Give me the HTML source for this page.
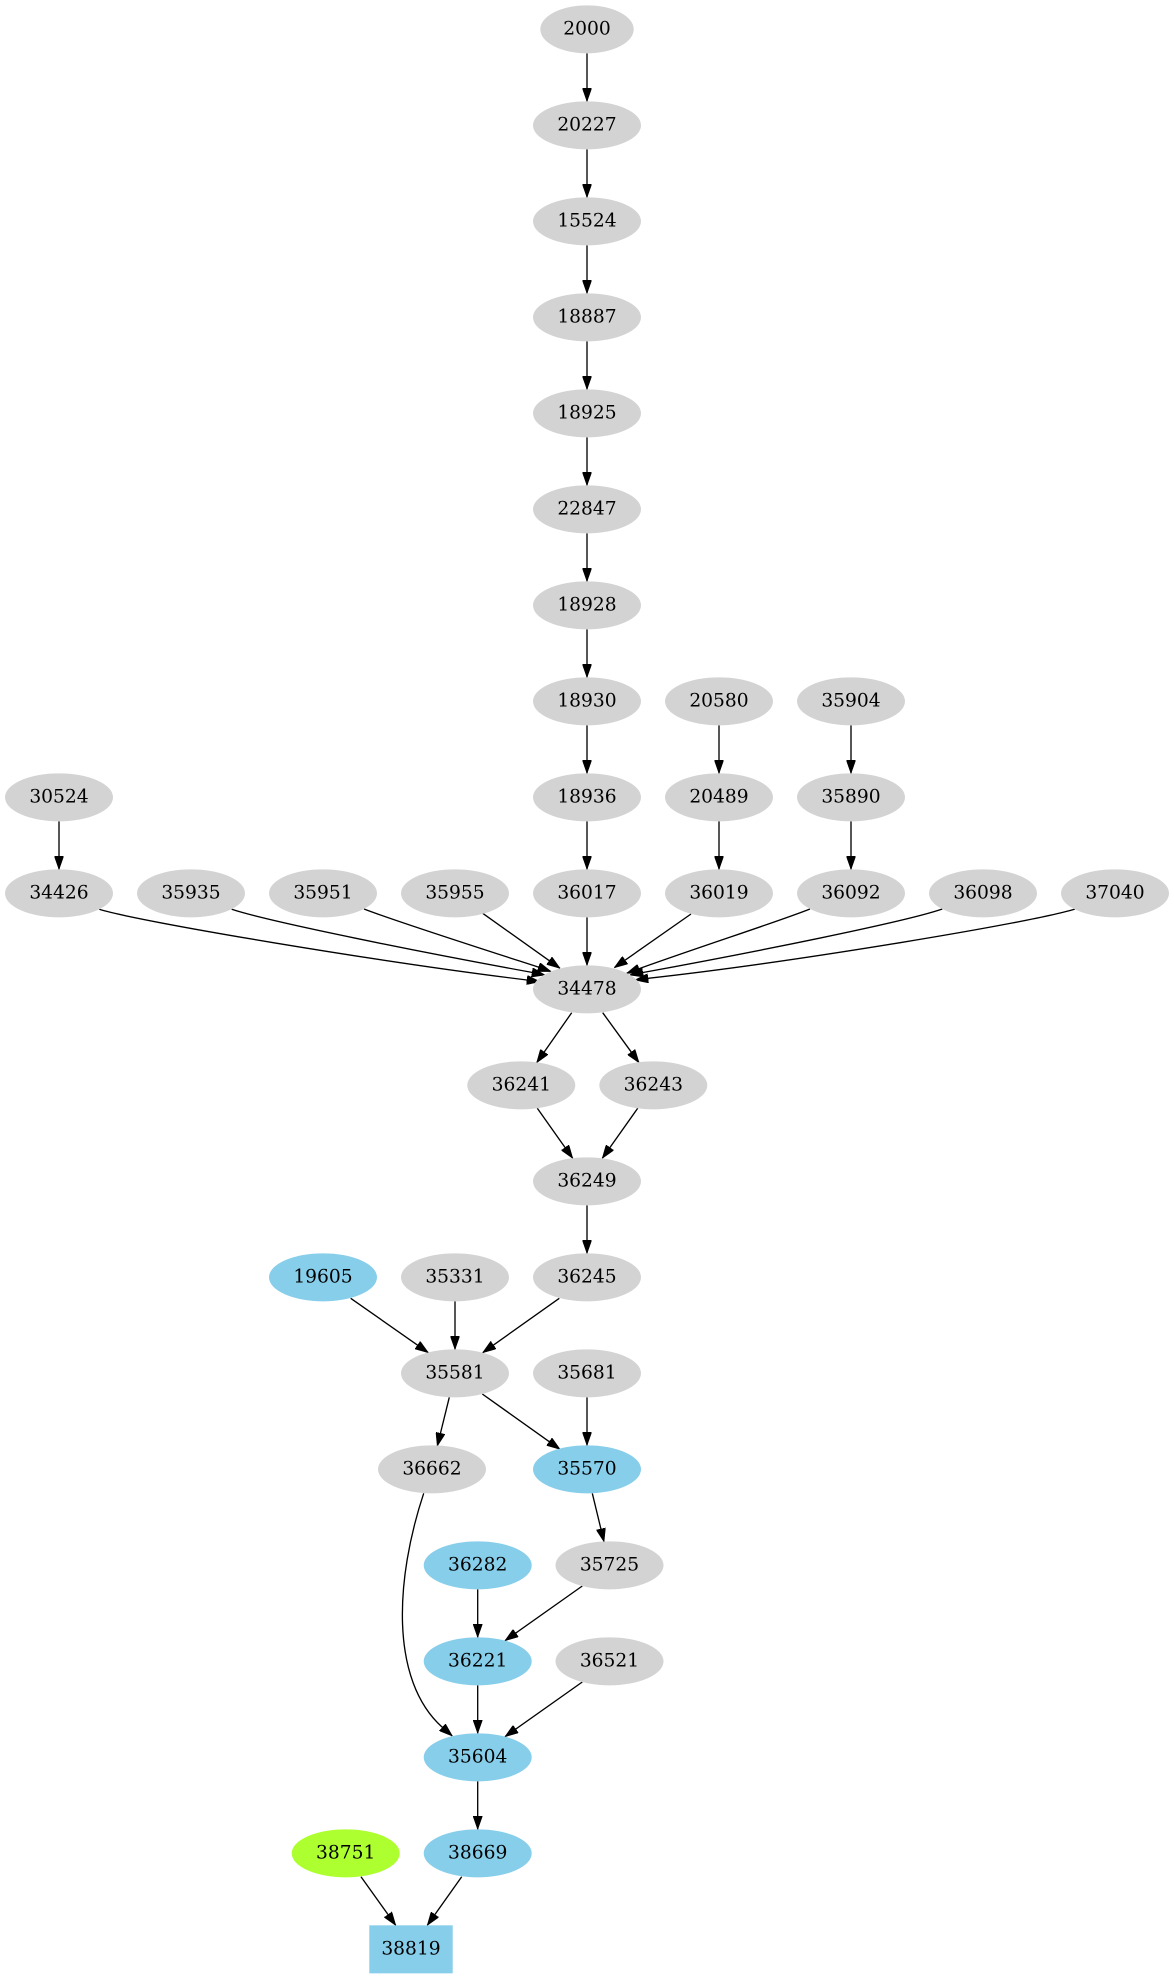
<!DOCTYPE html>
<html>
<head>
<meta charset="utf-8">
<style>
html,body{margin:0;padding:0;background:#fff;}
svg{display:block;}
text{font-family:"DejaVu Serif","Liberation Serif",serif;font-size:18.67px;fill:#000;text-anchor:middle;}
.e{fill:none;stroke:#000;stroke-width:1.33;}
.g{fill:#d3d3d3;}
.b{fill:#87ceeb;}
.y{fill:#adff2f;}
</style>
</head>
<body>
<svg width="1174" height="1979" viewBox="0 0 1174 1979" xmlns="http://www.w3.org/2000/svg">
<defs>
<marker id="a" viewBox="0 0 10 7" refX="10" refY="3.5" markerWidth="13.33" markerHeight="9.33" markerUnits="userSpaceOnUse" orient="auto">
<path d="M0,0 L10,3.5 L0,7 z" fill="#000" stroke="#000" stroke-width="0.5"/>
</marker>
</defs>

<!-- edges -->
<g class="e" marker-end="url(#a)">
<path d="M587,53.3 L587,101.3"/>
<path d="M587,149.3 L587,197.3"/>
<path d="M587,245.3 L587,293.3"/>
<path d="M587,341.3 L587,389.3"/>
<path d="M587,437.3 L587,485.3"/>
<path d="M587,533.3 L587,581.3"/>
<path d="M587,629.3 L587,677.3"/>
<path d="M587,725.3 L587,773.3"/>
<path d="M587,821.3 L587,869.3"/>
<path d="M587,917.3 L587,965.3"/>

<path d="M59,821.3 L59,869.3"/>
<path d="M719,725.3 L719,773.3"/>
<path d="M719,821.3 L719,869.3"/>
<path d="M851,725.3 L851,773.3"/>
<path d="M851,821.3 L851,869.3"/>

<path d="M99.3,909.3 C140,922 380,962 527,980 L540,981.7"/>
<path d="M231.7,909.3 C270,922 420,952 531.9,972.4 L545,975"/>
<path d="M364,909 C395,921 470,945 538.4,967.1 L551,971.5"/>
<path d="M482.7,913.3 L560,968.3"/>
<path d="M691,914 L614.3,967.7"/>
<path d="M810,909 C780,921 705,945 639.3,968.6 L626.7,973.3"/>
<path d="M942.3,909 C905,922 755,952 643,972.5 L630,975"/>
<path d="M1075,909 C1035,922 795,962 648,978.3 L635,980"/>

<path d="M571.7,1012.7 L536.7,1062.7"/>
<path d="M602.7,1012.7 L639,1062.7"/>
<path d="M537.3,1108.3 L572.7,1158.3"/>
<path d="M637.7,1108.3 L602.3,1158.3"/>
<path d="M587,1205.3 L587,1253.3"/>

<path d="M350.7,1298.3 L428.3,1352.7"/>
<path d="M455,1301.3 L455,1349.3"/>
<path d="M559.3,1298.3 L482.7,1352.7"/>
<path d="M449.3,1397.3 L437.3,1446"/>
<path d="M482.3,1394 L560,1449.3"/>
<path d="M587,1397.3 L587,1445.3"/>
<path d="M592.3,1493.3 L604,1541.7"/>
<path d="M477.7,1589.3 L477.7,1637.3"/>
<path d="M582.3,1586 L505,1640.7"/>
<path d="M582.3,1682 L505,1736.7"/>
<path d="M477.7,1685.3 L477.7,1733.3"/>
<path d="M423.7,1493.3 C395,1580 390,1680 442,1727 L452.3,1736"/>
<path d="M477.7,1781.3 L477.7,1829.3"/>
<path d="M361,1876.7 L395.7,1925.3"/>
<path d="M461.7,1876.7 L427.3,1925.3"/>
</g>

<!-- nodes -->
<ellipse class="g" cx="587" cy="29.33" rx="46.7" ry="24"/><text x="587" y="34.7">2000</text>
<ellipse class="g" cx="587" cy="125.33" rx="54" ry="24"/><text x="587" y="130.7">20227</text>
<ellipse class="g" cx="587" cy="221.33" rx="54" ry="24"/><text x="587" y="226.7">15524</text>
<ellipse class="g" cx="587" cy="317.33" rx="54" ry="24"/><text x="587" y="322.7">18887</text>
<ellipse class="g" cx="587" cy="413.33" rx="54" ry="24"/><text x="587" y="418.7">18925</text>
<ellipse class="g" cx="587" cy="509.33" rx="54" ry="24"/><text x="587" y="514.7">22847</text>
<ellipse class="g" cx="587" cy="605.33" rx="54" ry="24"/><text x="587" y="610.7">18928</text>

<ellipse class="g" cx="587" cy="701.33" rx="54" ry="24"/><text x="587" y="706.7">18930</text>
<ellipse class="g" cx="719" cy="701.33" rx="54" ry="24"/><text x="719" y="706.7">20580</text>
<ellipse class="g" cx="851" cy="701.33" rx="54" ry="24"/><text x="851" y="706.7">35904</text>

<ellipse class="g" cx="59" cy="797.33" rx="54" ry="24"/><text x="59" y="802.7">30524</text>
<ellipse class="g" cx="587" cy="797.33" rx="54" ry="24"/><text x="587" y="802.7">18936</text>
<ellipse class="g" cx="719" cy="797.33" rx="54" ry="24"/><text x="719" y="802.7">20489</text>
<ellipse class="g" cx="851" cy="797.33" rx="54" ry="24"/><text x="851" y="802.7">35890</text>

<ellipse class="g" cx="59" cy="893.33" rx="54" ry="24"/><text x="59" y="898.7">34426</text>
<ellipse class="g" cx="191" cy="893.33" rx="54" ry="24"/><text x="191" y="898.7">35935</text>
<ellipse class="g" cx="323" cy="893.33" rx="54" ry="24"/><text x="323" y="898.7">35951</text>
<ellipse class="g" cx="455" cy="893.33" rx="54" ry="24"/><text x="455" y="898.7">35955</text>
<ellipse class="g" cx="587" cy="893.33" rx="54" ry="24"/><text x="587" y="898.7">36017</text>
<ellipse class="g" cx="719" cy="893.33" rx="54" ry="24"/><text x="719" y="898.7">36019</text>
<ellipse class="g" cx="851" cy="893.33" rx="54" ry="24"/><text x="851" y="898.7">36092</text>
<ellipse class="g" cx="983" cy="893.33" rx="54" ry="24"/><text x="983" y="898.7">36098</text>
<ellipse class="g" cx="1115" cy="893.33" rx="54" ry="24"/><text x="1115" y="898.7">37040</text>

<ellipse class="g" cx="587" cy="989.33" rx="54" ry="24"/><text x="587" y="994.7">34478</text>

<ellipse class="g" cx="521.3" cy="1085.33" rx="54" ry="24"/><text x="521.3" y="1090.7">36241</text>
<ellipse class="g" cx="653.3" cy="1085.33" rx="54" ry="24"/><text x="653.3" y="1090.7">36243</text>

<ellipse class="g" cx="587" cy="1181.33" rx="54" ry="24"/><text x="587" y="1186.7">36249</text>

<ellipse class="b" cx="323" cy="1277.33" rx="54" ry="24"/><text x="323" y="1282.7">19605</text>
<ellipse class="g" cx="455" cy="1277.33" rx="54" ry="24"/><text x="455" y="1282.7">35331</text>
<ellipse class="g" cx="587" cy="1277.33" rx="54" ry="24"/><text x="587" y="1282.7">36245</text>

<ellipse class="g" cx="455" cy="1373.33" rx="54" ry="24"/><text x="455" y="1378.7">35581</text>
<ellipse class="g" cx="587" cy="1373.33" rx="54" ry="24"/><text x="587" y="1378.7">35681</text>

<ellipse class="g" cx="432" cy="1469.33" rx="54" ry="24"/><text x="432" y="1474.7">36662</text>
<ellipse class="b" cx="587" cy="1469.33" rx="54" ry="24"/><text x="587" y="1474.7">35570</text>

<ellipse class="b" cx="477.7" cy="1565.33" rx="54" ry="24"/><text x="477.7" y="1570.7">36282</text>
<ellipse class="g" cx="609.5" cy="1565.33" rx="54" ry="24"/><text x="609.5" y="1570.7">35725</text>

<ellipse class="b" cx="477.7" cy="1661.33" rx="54" ry="24"/><text x="477.7" y="1666.7">36221</text>
<ellipse class="g" cx="609.5" cy="1661.33" rx="54" ry="24"/><text x="609.5" y="1666.7">36521</text>

<ellipse class="b" cx="477.7" cy="1757.33" rx="54" ry="24"/><text x="477.7" y="1762.7">35604</text>

<ellipse class="y" cx="345.7" cy="1853.33" rx="54" ry="24"/><text x="345.7" y="1858.7">38751</text>
<ellipse class="b" cx="477.7" cy="1853.33" rx="54" ry="24"/><text x="477.7" y="1858.7">38669</text>

<rect class="b" x="369.3" y="1925.33" width="83.4" height="48"/><text x="411" y="1954.7">38819</text>
</svg>
</body>
</html>
